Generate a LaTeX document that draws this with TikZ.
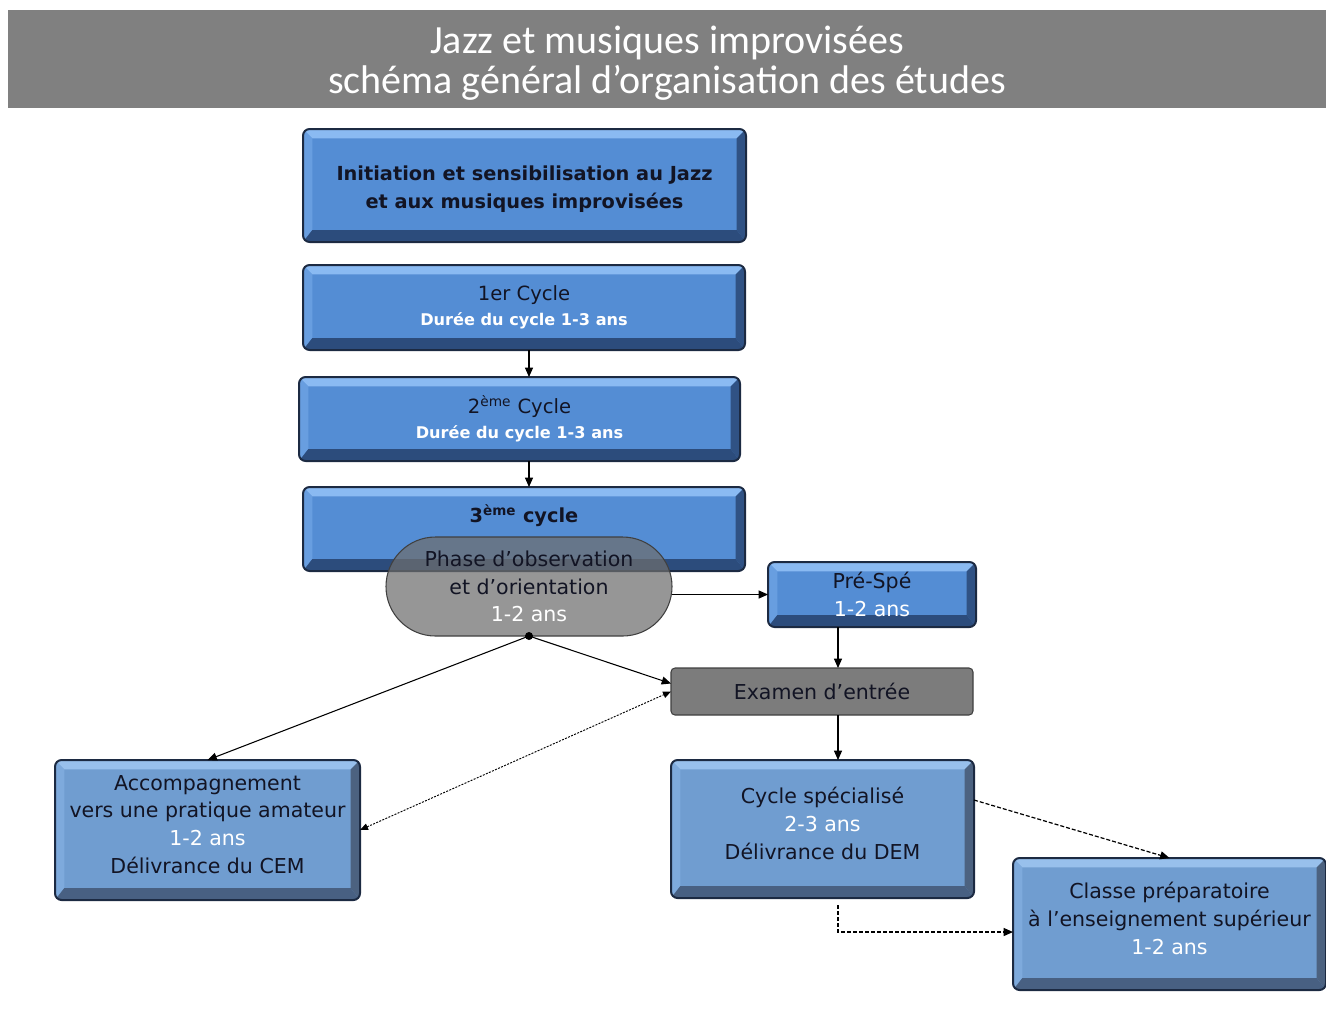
\documentclass[tikz,border=0pt]{standalone}
\usepackage{fontspec}
\usetikzlibrary{arrows.meta,calc,shapes.misc}
\newfontfamily\titlefont{Carlito}
\newfontfamily\boxfont{DejaVu Sans}
\definecolor{edgeblue}{RGB}{28,42,66}
\definecolor{aface}{RGB}{84,141,212}
\definecolor{atop}{RGB}{138,186,242}
\definecolor{aleft}{RGB}{104,158,224}
\definecolor{aright}{RGB}{48,82,132}
\definecolor{abot}{RGB}{44,76,124}
\definecolor{bface}{RGB}{112,157,208}
\definecolor{btop}{RGB}{152,192,236}
\definecolor{bleft}{RGB}{126,170,220}
\definecolor{bright}{RGB}{76,98,128}
\definecolor{bbot}{RGB}{72,96,130}
\definecolor{txtdark}{RGB}{18,20,36}
\definecolor{bandgray}{RGB}{128,128,128}
\definecolor{phasegray}{RGB}{110,110,110}
\definecolor{examgray}{RGB}{124,124,124}

\tikzset{
  bevel/.style={draw=edgeblue, line width=1.5pt, fill=#1face, rounded corners=5pt,
    inner sep=0pt, outer sep=0pt, align=center, text=txtdark,
    path picture={
      \path (path picture bounding box.north west) coordinate (pnw)
            (path picture bounding box.north east) coordinate (pne)
            (path picture bounding box.south east) coordinate (pse)
            (path picture bounding box.south west) coordinate (psw);
      \coordinate (pl) at ($(pnw)!7pt!(pne)$);
      \coordinate (pr) at ($(pne)!7pt!(pnw)$);
      \coordinate (ptop) at ($(pnw)!7pt!(psw)$);
      \coordinate (pbot) at ($(psw)!9pt!(pnw)$);
      \fill[#1top, sharp corners] (pnw) -- (pne) -- (pr |- ptop) -- (pl |- ptop) -- cycle;
      \fill[#1left, sharp corners] (pnw) -- (pl |- ptop) -- (pl |- pbot) -- (psw) -- cycle;
      \fill[#1right, sharp corners] (pne) -- (pse) -- (pr |- pbot) -- (pr |- ptop) -- cycle;
      \fill[#1bot, sharp corners] (psw) -- (pse) -- (pr |- pbot) -- (pl |- pbot) -- cycle;
    }},
  txtbold/.style={font=\boxfont\fontsize{14.5}{21}\selectfont\bfseries},
  txtcyc/.style={font=\boxfont\fontsize{14.7}{18.8}\selectfont},
  txtreg/.style={font=\boxfont\fontsize{15.4}{20.8}\selectfont},
  arr/.style={-{Triangle[length=7pt,width=6pt]}, line width=0.8pt},
  dotarr/.style={{Triangle[length=6pt,width=5pt]}-{Triangle[length=6pt,width=5pt]}, line width=0.7pt, dash pattern=on 1.5pt off 1pt},
  dasharr/.style={-{Triangle[length=7pt,width=6pt]}, line width=0.9pt, dash pattern=on 3pt off 1.5pt}
}
\newcommand{\durbold}[1]{\textcolor{white}{\fontsize{12.1}{18.8}\selectfont\bfseries #1}}
\newcommand{\lowpad}{\rule[-8.5pt]{0pt}{8.5pt}}
\newcommand{\toppad}{\rule{0pt}{17pt}}

\begin{document}
\begin{tikzpicture}[x=0.75pt,y=0.75pt,yscale=-1,xscale=1]
  \useasboundingbox (0,0) rectangle (1326,1008);

  % title band
  \node[fill=bandgray, minimum width=988.5pt, minimum height=73.5pt, inner sep=0pt] (band) at (667,59) {};
  \node[align=center, text=white, font=\titlefont\fontsize{30}{30}\selectfont] (title) at (667,63)
        {Jazz et musiques improvisées\\schéma général d’organisation des études};

  % main column
  \node[bevel=a, txtbold, minimum width=332.25pt, minimum height=84.75pt] (init) at (524.5,185.5)
        {\toppad Initiation et sensibilisation au Jazz\\et aux musiques improvisées};
  \node[bevel=a, txtcyc, minimum width=331.5pt, minimum height=63.75pt] (cyc1) at (524,307.5)
        {1er Cycle\\\durbold{Durée du cycle 1-3 ans}};
  \node[bevel=a, txtcyc, minimum width=330.75pt, minimum height=63pt] (cyc2) at (519.5,419)
        {2\textsuperscript{ème} Cycle\\\durbold{Durée du cycle 1-3 ans}};
  \node[bevel=a, minimum width=331.5pt, minimum height=63pt] (cyc3) at (524,529) {};
  \node[txtbold, text=txtdark] (cyc3lbl) at (524,516) {3\textsuperscript{ème} cycle};

  % observation phase
  \node[rounded rectangle, draw=black!75, line width=0.8pt, fill=phasegray, fill opacity=0.72, text opacity=1,
        minimum width=214.5pt, minimum height=74.25pt, inner sep=0pt, outer sep=0pt, align=center,
        text=txtdark, txtreg] (phase) at (529,586.5)
        {Phase d’observation\\et d’orientation\\\textcolor{white}{1-2 ans}};

  % right branch
  \node[bevel=a, txtreg, minimum width=156pt, minimum height=48.75pt] (prespe) at (872,594.5)
        {Pré-Spé\\\textcolor{white}{1-2 ans}};
  \node[draw=black!75, line width=0.8pt, fill=examgray, rounded corners=3pt, minimum width=226.5pt,
        minimum height=35.25pt, inner sep=0pt, outer sep=0pt, text=txtdark, txtreg] (exam) at (822,691.5)
        {Examen d’entrée};

  % lower boxes
  \node[bevel=b, txtreg, minimum width=228.75pt, minimum height=105pt] (accomp) at (207.5,830)
        {Accompagnement\\vers une pratique amateur\\\textcolor{white}{1-2 ans}\\Délivrance du CEM\lowpad};
  \node[bevel=b, txtreg, minimum width=227.25pt, minimum height=103.5pt] (cycspe) at (822.5,829)
        {Cycle spécialisé\\\textcolor{white}{2-3 ans}\\Délivrance du DEM\lowpad};
  \node[bevel=b, txtreg, minimum width=234.75pt, minimum height=99pt] (classe) at (1169.5,924)
        {Classe préparatoire\\à l’enseignement supérieur\\\textcolor{white}{1-2 ans}\lowpad};

  \coordinate (col) at (838,700);

  % connectors
  \draw[arr] (cyc1.south -| phase) -- (cyc2.north -| phase);
  \draw[arr] (cyc2.south -| phase) -- (cyc3.north -| phase);
  \draw[arr] (phase.east |- prespe) -- (prespe.west);
  \draw[arr] (prespe.south -| col) -- (exam.north -| col);
  \draw[arr] (exam.south -| col) -- (cycspe.north -| col);
  \fill (phase.south) circle (4);
  \draw[arr] (phase.south) -- (accomp.north);
  \draw[arr] (phase.south) -- ($(exam.west)+(0,-8)$);
  \draw[dotarr] (accomp.east) -- (exam.west);
  \draw[dasharr] ($(cycspe.north east)+(0,40)$) -- (classe.north);
  \draw[dasharr] ($(cycspe.south -| col)+(0,7)$) |- ($(classe.west)+(0,8)$);
\end{tikzpicture}
\end{document}
